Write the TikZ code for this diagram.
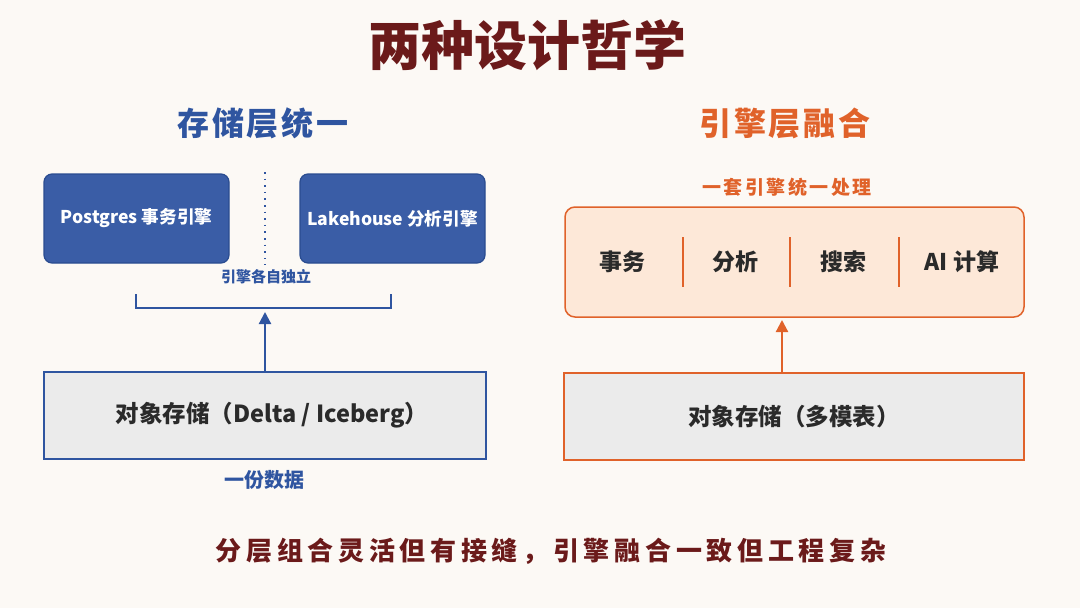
\documentclass[tikz,border=0pt]{standalone}
\usepackage{fontspec}
\setmainfont{Noto Sans CJK SC}
\usetikzlibrary{arrows.meta}
\definecolor{bgc}{HTML}{FCF9F5}
\definecolor{titlered}{HTML}{6B1A1A}
\definecolor{blu}{HTML}{2F55A0}
\definecolor{blufill}{HTML}{3A5DA6}
\definecolor{org}{HTML}{E0622A}
\definecolor{orgfill}{HTML}{FDE8D8}
\definecolor{grayfill}{HTML}{EBEBEB}
\definecolor{txt}{HTML}{2A2A2A}
\tikzset{
  engbox/.style={draw=blu!90!black, line width=1.2pt, fill=blufill, rounded corners=8pt},
  engtext/.style={text=white, font=\fontsize{17.6}{21}\selectfont\bfseries},
  storebox/.style={fill=grayfill, line width=1.8pt, text=txt, font=\fontsize{23.5}{27}\selectfont\bfseries},
  lbl/.style={font=\fontsize{15}{18}\selectfont\bfseries},
  item/.style={text=txt, font=\fontsize{23}{27}\selectfont\bfseries},
}
\begin{document}
\begin{tikzpicture}[x=1pt,y=-1pt]
\fill[bgc] (0,0) rectangle (1080,608);
\useasboundingbox (0,0) rectangle (1080,608);
% title
\node[text=titlered, font=\fontsize{53}{60}\selectfont\bfseries] (title) at (527,45) {两种设计哲学};
\node[text=blu, font=\fontsize{32}{38}\selectfont\bfseries\addfontfeatures{LetterSpace=8}] (lt) at (263,123) {存储层统一};
\node[text=org, font=\fontsize{32}{38}\selectfont\bfseries\addfontfeatures{LetterSpace=8}] (rt) at (785,123) {引擎层融合};
% left side
\draw[engbox] (44,174) rectangle (229,263);
\node[engtext] (pg) at (136.5,218.5) {Postgres 事务引擎};
\draw[engbox] (300,174) rectangle (485,263);
\node[engtext] (lh) at (392.5,218.5) {Lakehouse 分析引擎};
\coordinate (d1) at (265,172);
\coordinate (d2) at (265,265);
\draw[blu, line width=1.6pt, dash pattern=on 1.6pt off 5pt] (d1) -- (d2);
\node[lbl, text=blu] (indep) at (266,277) {引擎各自独立};
\coordinate (b1) at (136,294);
\coordinate (b2) at (391,294);
\draw[blu, line width=1.8pt] (b1) -- ++(0,14) -| (b2);
\node[storebox, draw=blu, minimum width=442pt, minimum height=87pt, inner sep=0pt] (ls) at (265,415.5) {};
\node[storebox, fill=none] (lstext) at (272,415.5) {对象存储（Delta / Iceberg）};
\coordinate (la) at (265,312);
\draw[blu, line width=2.2pt, -{Triangle[length=12pt,width=12pt]}] (ls.north) -- (la);
\node[text=blu, font=\fontsize{20}{22}\selectfont\bfseries] (one) at (264,480) {一份数据};
% right side
\node[text=org, font=\fontsize{19}{22}\selectfont\bfseries\addfontfeatures{LetterSpace=13}] (unified) at (787,187) {一套引擎统一处理};
\node[draw=org, line width=1.5pt, fill=orgfill, rounded corners=10pt, minimum width=459pt, minimum height=110pt, inner sep=0pt] (eng) at (794.5,262) {};
\foreach \x in {683,790,899} \draw[org, line width=1.4pt] (\x,237) -- (\x,287);
\node[item] (tx) at (622,262) {事务};
\node[item] (an) at (735,262) {分析};
\node[item] (se) at (843,262) {搜索};
\node[item] (ai) at (962,262) {AI 计算};
\node[storebox, draw=org, minimum width=460pt, minimum height=87pt, inner sep=0pt] (rs) at (794,416.5) {对象存储（多模表）};
\draw[org, line width=2.2pt, -{Triangle[length=12pt,width=12pt]}] (rs.north -| 782,0) -- (782,320);
% bottom
\node[text=titlered, font=\fontsize{26}{32}\selectfont\bfseries\addfontfeatures{LetterSpace=18}] (bottom) at (551,551) {分层组合灵活但有接缝，引擎融合一致但工程复杂};
\end{tikzpicture}
\end{document}
